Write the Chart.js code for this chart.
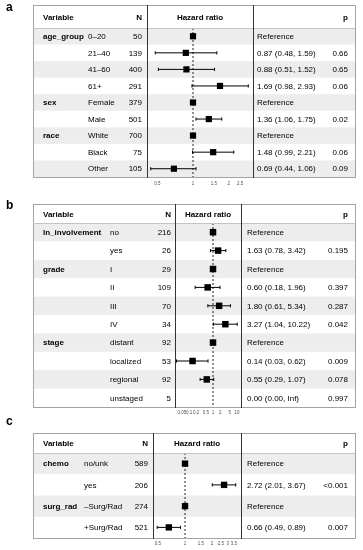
<!DOCTYPE html>
<html>
<head>
<meta charset="utf-8">
<script src="https://cdn.jsdelivr.net/npm/chart.js@4.4.1/dist/chart.umd.min.js"></script>
<style>
  body { margin: 0; background: #fff; width: 363px; height: 550px; position: relative; overflow: hidden; }
  canvas { position: absolute; left: 0; }
</style>
</head>
<body>
<canvas id="panelA" width="363" height="192" style="top:0px"></canvas>
<canvas id="panelB" width="363" height="224" style="top:195px"></canvas>
<canvas id="panelC" width="363" height="138" style="top:412px"></canvas>
<script>
// =======================
// DATOS
// =======================

// panel a
const aVariables = ["age_group", "", "", "", "sex", "", "race", "", ""];
const aLevels = ["0–20", "21–40", "41–60", "61+", "Female", "Male", "White", "Black", "Other"];
const aN = [50, 139, 400, 291, 379, 501, 700, 75, 105];
const aHR = [1, 0.87, 0.88, 1.69, 1, 1.36, 1, 1.48, 0.69];
const aLower = [null, 0.48, 0.51, 0.98, null, 1.06, null, 0.99, 0.44];
const aUpper = [null, 1.59, 1.52, 2.93, null, 1.75, null, 2.21, 1.06];
const aP = ["", "0.66", "0.65", "0.06", "", "0.02", "", "0.06", "0.09"];
const aTicks = [0.5, 1, 1.5, 2, 2.5];

// panel b
const bVariables = ["ln_involvement", "", "grade", "", "", "", "stage", "", "", ""];
const bLevels = ["no", "yes", "I", "II", "III", "IV", "distant", "localized", "regional", "unstaged"];
const bN = [216, 26, 29, 109, 70, 34, 92, 53, 92, 5];
const bHR = [1, 1.63, 1, 0.60, 1.80, 3.27, 1, 0.14, 0.55, 0];
const bLower = [null, 0.78, null, 0.18, 0.61, 1.04, null, 0.03, 0.29, 0];
const bUpper = [null, 3.42, null, 1.96, 5.34, 10.22, null, 0.62, 1.07, Infinity];
const bP = ["", "0.195", "", "0.397", "0.287", "0.042", "", "0.009", "0.078", "0.997"];
const bTicks = [0.05, 0.1, 0.2, 0.5, 1, 2, 5, 10];

// panel c
const cVariables = ["chemo", "", "surg_rad", ""];
const cLevels = ["no/unk", "yes", "–Surg/Rad", "+Surg/Rad"];
const cN = [589, 206, 274, 521];
const cHR = [1, 2.72, 1, 0.66];
const cLower = [null, 2.01, null, 0.49];
const cUpper = [null, 3.67, null, 0.89];
const cP = ["", "<0.001", "", "0.007"];
const cTicks = [0.5, 1, 1.5, 2, 2.5, 3, 3.5];

const FONT = "'Liberation Sans', Arial, Helvetica, sans-serif";

// =======================
// TABLA + FOREST
// =======================

function fmt(v) {
    return v === Infinity ? "Inf" : v.toFixed(2);
}

function tablePlugin(d, lay) {
    return {
        id: "forestTable",
        beforeDatasetsDraw(chart) {
            const ctx = chart.ctx;
            const y = chart.scales.y;
            ctx.save();
            ctx.fillStyle = "#ededed";
            d.levels.forEach((_, i) => {
                if (i % 2 !== 0) return;
                const y0 = y.getPixelForValue(i - 0.5);
                const y1 = y.getPixelForValue(i + 0.5);
                ctx.fillRect(lay.boxLeft, y0, lay.boxRight - lay.boxLeft, y1 - y0);
            });
            ctx.restore();
        },
        afterDraw(chart) {
            const ctx = chart.ctx;
            const area = chart.chartArea;
            const x = chart.scales.x;
            const y = chart.scales.y;
            ctx.save();

            // letra del panel
            ctx.fillStyle = "#000";
            ctx.font = `bold 12px ${FONT}`;
            ctx.textBaseline = "middle";
            ctx.textAlign = "left";
            ctx.fillText(lay.letter, 6, lay.letterY);

            // bordes
            ctx.lineWidth = 1;
            ctx.strokeStyle = "#a3a3a3";
            ctx.strokeRect(lay.boxLeft + 0.5, lay.boxTop + 0.5, lay.boxRight - lay.boxLeft, area.bottom - lay.boxTop);
            ctx.strokeStyle = "#c4c4c4";
            ctx.beginPath();
            ctx.moveTo(lay.boxLeft, area.top + 0.5);
            ctx.lineTo(lay.boxRight, area.top + 0.5);
            ctx.stroke();
            ctx.strokeStyle = "#333";
            ctx.beginPath();
            [area.left, area.right].forEach(px => {
                ctx.moveTo(Math.round(px) + 0.5, lay.boxTop);
                ctx.lineTo(Math.round(px) + 0.5, area.bottom + 1);
            });
            ctx.stroke();

            // marcas del eje (desde la escala logarítmica)
            ctx.fillStyle = "#4d4d4d";
            ctx.font = `4.5px ${FONT}`;
            ctx.textAlign = "center";
            d.ticks.forEach(t => {
                ctx.fillText(String(t), x.getPixelForValue(t), lay.tickY);
            });

            // encabezado
            ctx.fillStyle = "#000";
            const hy = (lay.boxTop + area.top) / 2 + 1;
            ctx.font = `bold 8px ${FONT}`;
            ctx.textAlign = "left";
            ctx.fillText("Variable", lay.varX, hy);
            ctx.textAlign = "right";
            ctx.fillText("N", lay.nRight, hy);
            ctx.fillText("p", lay.pRight, hy);
            ctx.textAlign = "center";
            ctx.fillText("Hazard ratio", (area.left + area.right) / 2, hy);

            // filas
            d.levels.forEach((lvl, i) => {
                const py = y.getPixelForValue(i) + 0.5;
                ctx.font = `bold 8px ${FONT}`;
                ctx.textAlign = "left";
                if (d.variables[i]) ctx.fillText(d.variables[i], lay.varX, py);
                ctx.font = `8px ${FONT}`;
                ctx.fillText(lvl, lay.levelX, py);
                const est = d.lower[i] === null ? "Reference" :
                    `${fmt(d.hr[i])} (${fmt(d.lower[i])}, ${fmt(d.upper[i])})`;
                ctx.fillText(est, lay.estX, py);
                ctx.textAlign = "right";
                ctx.fillText(String(d.n[i]), lay.nRight, py);
                ctx.fillText(d.p[i], lay.pRight, py);
            });
            ctx.restore();
        }
    };
}

function renderForest(id, d, lay) {
    const n = d.levels.length;
    const squares = [];
    const whiskers = [];
    d.hr.forEach((v, i) => {
        if (v > 0) squares.push({ x: v, y: i });
        const lo = d.lower[i], hi = d.upper[i];
        if (lo !== null && lo > 0 && isFinite(hi)) {
            whiskers.push({ x: lo, y: i }, { x: hi, y: i }, { x: 1, y: null });
        }
    });

    const canvas = document.getElementById(id);
    const H = canvas.height;

    new Chart(canvas.getContext("2d"), {
        type: "scatter",
        data: {
            datasets: [
                {
                    data: squares,
                    pointStyle: "rect",
                    pointRadius: lay.square,
                    backgroundColor: "#000",
                    borderWidth: 0
                },
                {
                    data: whiskers,
                    showLine: true,
                    spanGaps: false,
                    borderColor: "#000",
                    borderWidth: 1,
                    pointStyle: "line",
                    rotation: 90,
                    pointRadius: 1.6,
                    pointBorderColor: "#000",
                    pointBorderWidth: 1
                },
                {
                    data: [{ x: 1, y: -0.5 }, { x: 1, y: n - 0.5 }],
                    showLine: true,
                    borderColor: "#222",
                    borderWidth: 1,
                    borderDash: [2, 2],
                    pointRadius: 0
                }
            ]
        },
        options: {
            responsive: false,
            animation: false,
            events: [],
            layout: {
                padding: {
                    left: lay.hrLeft,
                    right: 363 - lay.hrRight,
                    top: lay.headerBottom,
                    bottom: H - lay.tableBottom
                }
            },
            plugins: { legend: { display: false }, tooltip: { enabled: false } },
            scales: {
                x: {
                    type: "logarithmic",
                    display: false,
                    min: lay.xMin,
                    max: lay.xMax
                },
                y: {
                    display: false,
                    min: -0.5,
                    max: n - 0.5,
                    reverse: true
                }
            }
        },
        plugins: [tablePlugin(d, lay)]
    });
}

renderForest("panelA",
    { variables: aVariables, levels: aLevels, n: aN, hr: aHR, lower: aLower, upper: aUpper, p: aP, ticks: aTicks },
    { letter: "a", letterY: 8, boxLeft: 33, boxRight: 355, boxTop: 5, headerBottom: 28, tableBottom: 177, tickY: 184,
      hrLeft: 147, hrRight: 253, varX: 43, levelX: 88, nRight: 142, estX: 257, pRight: 348,
      xMin: 0.409, xMax: 3.21, square: 4.4 });

renderForest("panelB",
    { variables: bVariables, levels: bLevels, n: bN, hr: bHR, lower: bLower, upper: bUpper, p: bP, ticks: bTicks },
    { letter: "b", letterY: 11, boxLeft: 33, boxRight: 355, boxTop: 9, headerBottom: 28, tableBottom: 212, tickY: 218,
      hrLeft: 175, hrRight: 241, varX: 43, levelX: 110, nRight: 171, estX: 247, pRight: 348,
      xMin: 0.026, xMax: 14.7, square: 4.6 });

renderForest("panelC",
    { variables: cVariables, levels: cLevels, n: cN, hr: cHR, lower: cLower, upper: cUpper, p: cP, ticks: cTicks },
    { letter: "c", letterY: 10, boxLeft: 33, boxRight: 355, boxTop: 21, headerBottom: 41, tableBottom: 126, tickY: 132,
      hrLeft: 153, hrRight: 241, varX: 43, levelX: 84, nRight: 148, estX: 247, pRight: 348,
      xMin: 0.44, xMax: 4.2, square: 4.5 });
</script>
</body>
</html>
